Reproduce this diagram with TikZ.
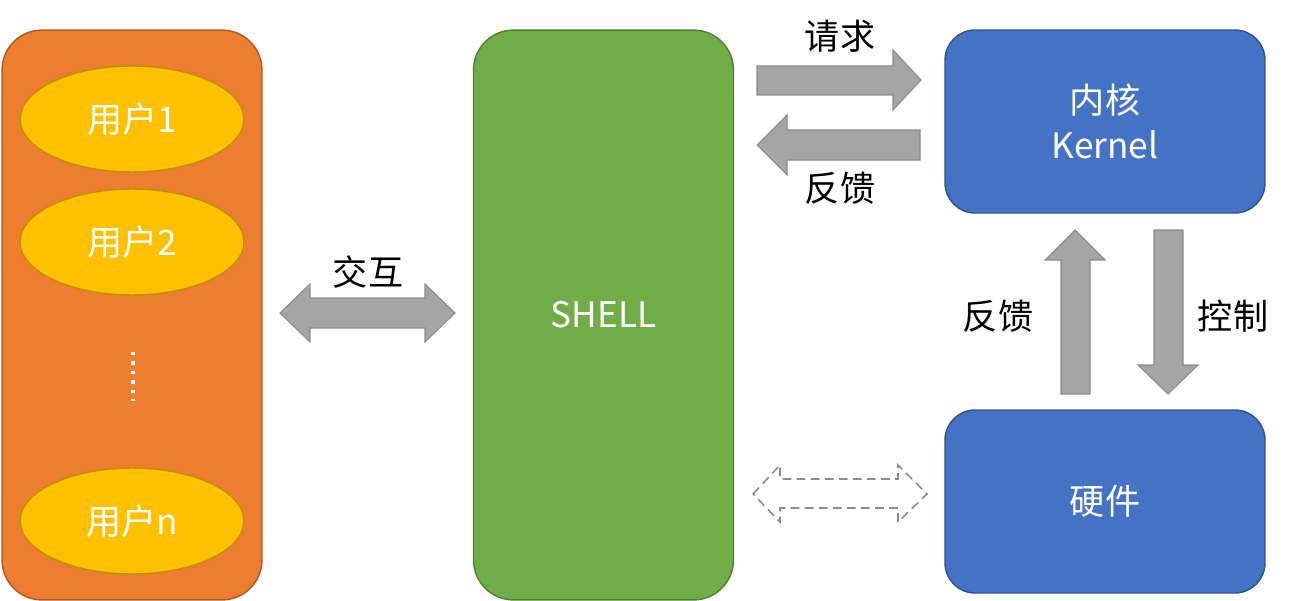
\documentclass[tikz,border=0pt]{standalone}
\usepackage{fontspec}
\setmainfont{Noto Sans CJK SC}
\usetikzlibrary{shapes.geometric}
\definecolor{userfill}{HTML}{ED7D31}
\definecolor{userline}{HTML}{AE5A21}
\definecolor{onefill}{HTML}{FFC000}
\definecolor{oneline}{HTML}{BF9000}
\definecolor{shellfill}{HTML}{70AD47}
\definecolor{shellline}{HTML}{507E32}
\definecolor{hwfill}{HTML}{4472C4}
\definecolor{hwline}{HTML}{2F528F}
\definecolor{arrfill}{HTML}{A5A5A5}
\definecolor{arrline}{HTML}{8C8C8C}
\tikzset{
  bigbox/.style={rectangle, rounded corners=0.8cm, line width=0.8pt, minimum width=5.2cm, minimum height=11.4cm},
  hwbox/.style={rectangle, rounded corners=0.6cm, draw=hwline, fill=hwfill, line width=0.8pt, minimum width=6.4cm, minimum height=3.66cm, text=white, align=center},
  user/.style={ellipse, draw=oneline, fill=onefill, line width=0.8pt, minimum width=4.48cm, minimum height=2.12cm, text=white},
  blockarrow/.style={fill=arrfill, draw=arrline, line width=0.6pt},
  label/.style={text=black}
}
\begin{document}
\begin{tikzpicture}[x=0.02cm, y=-0.02cm, font=\fontsize{20}{26}\selectfont]
\useasboundingbox (0,0) rectangle (1294,601);
%users
\node[bigbox, draw=userline, fill=userfill] (users) at (132,315) {};
\node[user] at (132,119) (u1) {用户1};
\node[user] at (132,242) (u2) {用户2};
\node[user] at (132,521) (un) {用户n};
\coordinate (dtop) at (133,352); \coordinate (dbot) at (133,401);
\draw[white, line width=1.8pt, dash pattern=on 1.8pt off 3.6pt] (dtop) -- (dbot);

%shell
\node[bigbox, draw=shellline, fill=shellfill, text=white] (shell) at (603.5,315) {SHELL};

%kernel and hardware
\node[hwbox] (kernel) at (1105,121.5) {内核\\Kernel};
\node[hwbox] (hw) at (1105,501.5) {硬件};

%interaction
\draw[blockarrow] (280,313) -- (310,284) -- (310,298) -- (425,298) -- (425,284) -- (455,313)
  -- (425,342) -- (425,328) -- (310,328) -- (310,342) -- cycle;
\node[label] at (368,272) (l1) {交互};

%request / feedback
\draw[blockarrow] (757,66) -- (893,66) -- (893,50) -- (921,80) -- (893,110) -- (893,95) -- (757,95) -- cycle;
\node[label] at (840,36) (l2) {请求};
\draw[blockarrow] (920,130) -- (787,130) -- (787,115) -- (757,145) -- (787,175) -- (787,160) -- (920,160) -- cycle;
\node[label] at (840,188) (l3) {反馈};

%control / feedback
\draw[blockarrow] (1061,394) -- (1061,260) -- (1045,260) -- (1075,230) -- (1105,260) -- (1090,260) -- (1090,394) -- cycle;
\node[label] at (998,316) (l4) {反馈};
\draw[blockarrow] (1154,230) -- (1183,230) -- (1183,365) -- (1198,365) -- (1168,394) -- (1138,365) -- (1154,365) -- cycle;
\node[label] at (1233,316) (l5) {控制};

%shell - hardware
\draw[arrline, line width=0.9pt, dash pattern=on 5pt off 3pt] (753,494) -- (780,465) -- (780,479) -- (898,479) -- (898,465) -- (927,494)
  -- (898,522) -- (898,508) -- (780,508) -- (780,522) -- cycle;
\end{tikzpicture}
\end{document}
